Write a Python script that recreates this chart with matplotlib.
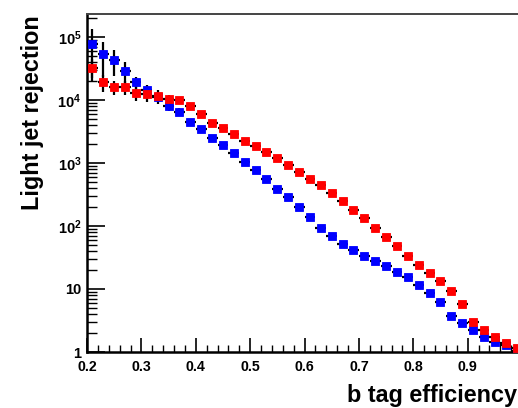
import numpy as np
import matplotlib
matplotlib.use("Agg")
import matplotlib.pyplot as plt
from matplotlib.ticker import FixedLocator, FuncFormatter, LogLocator, MultipleLocator, NullFormatter

plt.rcParams['font.family'] = ['Liberation Sans', 'DejaVu Sans']
plt.rcParams['font.weight'] = 'bold'
plt.rcParams['mathtext.fontset'] = 'custom'
plt.rcParams['mathtext.rm'] = 'Liberation Sans:bold'
plt.rcParams['mathtext.bf'] = 'Liberation Sans:bold'

# b-tag efficiency bin centres (bin width 0.02)
efficiency = [0.21, 0.23, 0.25, 0.27, 0.29, 0.31, 0.33, 0.35, 0.37, 0.39,
              0.41, 0.43, 0.45, 0.47, 0.49, 0.51, 0.53, 0.55, 0.57, 0.59,
              0.61, 0.63, 0.65, 0.67, 0.69, 0.71, 0.73, 0.75, 0.77, 0.79,
              0.81, 0.83, 0.85, 0.87, 0.89, 0.91, 0.93, 0.95, 0.97, 0.99]
bin_half_width = 0.01

# light-jet rejection, blue tagger
rej_blue = [7.7e4, 5.3e4, 4.3e4, 2.9e4, 1.9e4, 1.45e4, 1.1e4, 8.1e3, 6.4e3, 4.5e3,
            3.4e3, 2.5e3, 1.9e3, 1.45e3, 1.05e3, 760, 565, 380, 285, 200,
            137, 92, 69, 51, 41, 33, 28, 23, 18.6, 15.4,
            11.5, 8.6, 6.2, 3.7, 2.9, 2.2, 1.75, 1.44, 1.3, 1.05]
err_blue = [5.5e4, 3.0e4, 1.9e4, 1.1e4, 4.0e3, 2.5e3, 2.5e3, 1.5e3, 9.0e2, 5.0e2,
            3.0e2, 2.0e2, 1.3e2, 90, 60, 40, 28, 18, 13, 9,
            6, 4, 3, 2.2, 1.7, 1.3, 1.1, 0.9, 0.7, 0.6,
            0.45, 0.35, 0.25, 0.15, 0.12, 0.09, 0.07, 0.05, 0.04, 0.03]

# light-jet rejection, red tagger
rej_red = [3.2e4, 1.9e4, 1.6e4, 1.6e4, 1.3e4, 1.23e4, 1.17e4, 1.04e4, 1.0e4, 8.1e3,
           6.0e3, 4.3e3, 3.6e3, 2.9e3, 2.2e3, 1.87e3, 1.5e3, 1.2e3, 940, 720,
           565, 440, 330, 245, 177, 133, 92, 66, 48, 33,
           24, 18, 13.4, 9.3, 5.8, 3.0, 2.2, 1.7, 1.4, 1.17]
err_red = [1.2e4, 5.5e3, 4.0e3, 4.0e3, 3.4e3, 3.0e3, 2.5e3, 1.5e3, 1.2e3, 7.0e2,
           4.0e2, 2.5e2, 1.8e2, 1.3e2, 90, 70, 50, 38, 28, 20,
           15, 11, 8, 6, 4.5, 3.3, 2.3, 1.6, 1.2, 0.8,
           0.6, 0.45, 0.33, 0.22, 0.14, 0.08, 0.06, 0.05, 0.04, 0.03]

fig = plt.figure(figsize=(5.18, 4.08), dpi=100)
W, H = 518.0, 408.0
ax = fig.add_axes([87 / W, 1 - 352 / H, (522 - 87) / W, (352 - 14) / H])

for rej, err, col in ((rej_blue, err_blue, '#0000ff'), (rej_red, err_red, '#ff0000')):
    ax.errorbar(efficiency, rej, yerr=err, xerr=bin_half_width, fmt='none',
                ecolor='black', elinewidth=1.6, capsize=0, zorder=2)
    ax.plot(efficiency, rej, linestyle='none', marker='s', markersize=6.2,
            markerfacecolor=col, markeredgecolor=col, markeredgewidth=0.6, zorder=3)

ax.set_yscale('log')
ax.set_xlim(0.2, 1.0)
ax.set_ylim(1, 2.3e5)

ax.xaxis.set_major_locator(MultipleLocator(0.1))
ax.xaxis.set_minor_locator(MultipleLocator(0.02))
# the 1.0 label falls past the figure edge, so it is left blank
ax.xaxis.set_major_formatter(FuncFormatter(lambda v, p: '' if v > 0.95 else f'{v:.1f}'))

ax.yaxis.set_major_locator(FixedLocator([1, 10, 100, 1e3, 1e4, 1e5]))
ax.yaxis.set_minor_locator(LogLocator(base=10, subs=np.arange(2, 10), numticks=20))
ax.yaxis.set_minor_formatter(NullFormatter())


def ylab(v, pos):
    e = int(round(np.log10(v)))
    if e == 0:
        return '1'
    if e == 1:
        return '10'
    return r'$\mathbf{10^{%d}}$' % e


ax.yaxis.set_major_formatter(FuncFormatter(ylab))

ax.tick_params(axis='both', which='both', direction='in', colors='black',
               top=False, right=False)
ax.tick_params(axis='y', which='major', length=13, width=1.2, pad=4, labelsize=10.5)
ax.tick_params(axis='y', which='minor', length=7, width=1.0)
ax.tick_params(axis='x', which='major', length=10, width=1.2, pad=6, labelsize=10.2)
ax.tick_params(axis='x', which='minor', length=5, width=1.0)
for lab in ax.get_xticklabels() + ax.get_yticklabels():
    lab.set_fontweight('bold')

for side in ('left', 'bottom'):
    ax.spines[side].set_linewidth(1.8)
ax.spines['top'].set_linewidth(1.4)
ax.spines['top'].set_color('#444444')
ax.spines['right'].set_visible(False)

fig.text(33 / W, 1 - 15 / H, 'Light jet rejection', rotation=90, ha='center', va='top',
         fontsize=16.8, fontweight='bold')
fig.text(347 / W, 1 - 402 / H, 'b tag efficiency', ha='left', va='baseline',
         fontsize=16.8, fontweight='bold')

fig.savefig('out.png', dpi=100)
